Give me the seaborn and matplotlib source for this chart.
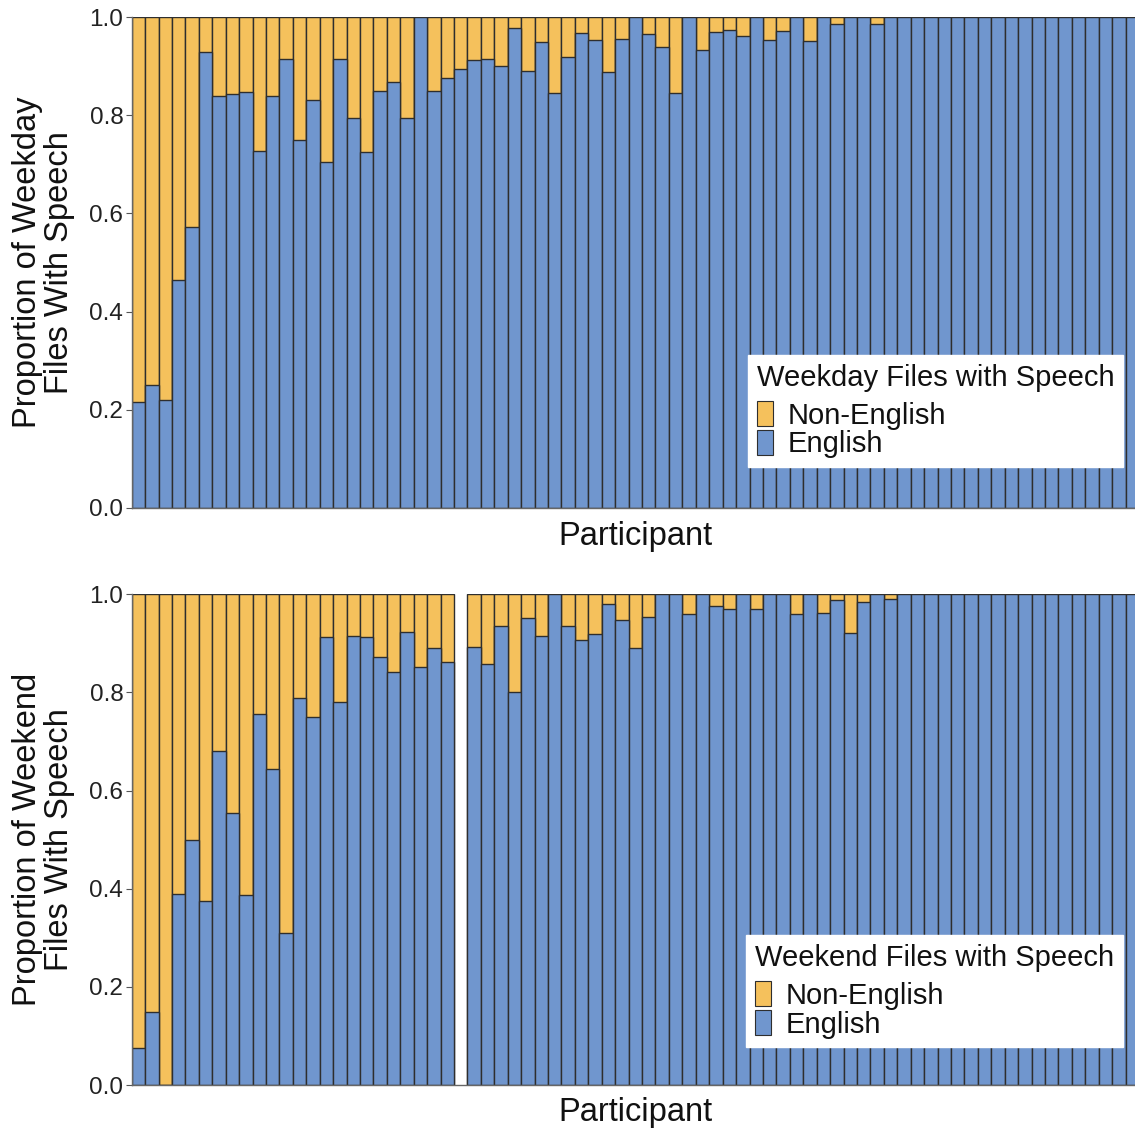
import numpy as np
import pandas as pd
import matplotlib
matplotlib.use("Agg")
import matplotlib.pyplot as plt
import seaborn as sns
from matplotlib.patches import Patch

# ---- data ----
weekday_english = [
    0.215, 0.250, 0.220, 0.465, 0.573, 0.928, 0.839, 0.844, 0.848, 0.728,
    0.839, 0.915, 0.749, 0.831, 0.704, 0.915, 0.795, 0.726, 0.849, 0.868,
    0.795, 1.000, 0.849, 0.876, 0.894, 0.913, 0.915, 0.900, 0.977, 0.891,
    0.949, 0.846, 0.918, 0.967, 0.954, 0.888, 0.956, 1.000, 0.966, 0.939,
    0.846, 1.000, 0.933, 0.969, 0.974, 0.962, 1.000, 0.954, 0.972, 1.000,
    0.951, 1.000, 0.986, 1.000, 1.000, 0.986, 1.000, 1.000, 1.000, 1.000,
    1.000, 1.000, 1.000, 1.000, 1.000, 1.000, 1.000, 1.000, 1.000, 1.000,
    1.000, 1.000, 1.000, 1.000, 1.000,
]
weekend_english = [
    0.075, 0.148, 0.000, 0.390, 0.499, 0.374, 0.680, 0.554, 0.388, 0.757,
    0.643, 0.309, 0.788, 0.750, 0.912, 0.781, 0.916, 0.912, 0.873, 0.842,
    0.924, 0.852, 0.891, 0.862, np.nan, 0.892, 0.857, 0.935, 0.800, 0.951,
    0.915, 1.000, 0.935, 0.907, 0.920, 0.980, 0.948, 0.890, 0.954, 1.000,
    1.000, 0.959, 1.000, 0.976, 0.970, 1.000, 0.970, 1.000, 1.000, 0.959,
    1.000, 0.962, 0.988, 0.922, 0.984, 1.000, 0.990, 1.000, 1.000, 1.000,
    1.000, 1.000, 1.000, 1.000, 1.000, 1.000, 1.000, 1.000, 1.000, 1.000,
    1.000, 1.000, 1.000, 1.000, 1.000,
]
participants = [f"P{i+1:02d}" for i in range(len(weekday_english))]
y_ticks = [0.0, 0.2, 0.4, 0.6, 0.8, 1.0]
legend_labels = ["Non-English", "English"]

YELLOW = "#F5C15C"
BLUE = "#7096CE"
EDGE = "#2e2e2e"

sns.set_theme(style="white")
plt.rcParams["font.family"] = ["Liberation Sans", "DejaVu Sans"]

W, H = 1135, 1128
fig = plt.figure(figsize=(W / 100, H / 100), dpi=100)

left = 131.7 / W
width = (1139.0 - 131.7) / W
ax_top = fig.add_axes([left, 1 - 508 / H, width, (508 - 17) / H])
ax_bot = fig.add_axes([left, 1 - 1085 / H, width, (1085 - 594.3) / H])


def draw(ax, english, ylabel, legend_title, leg_xy):
    df = pd.DataFrame({"participant": participants, "english": english})
    df["total"] = np.where(df["english"].isna(), np.nan, 1.0)
    df = df.dropna()
    sns.barplot(data=df, x="participant", y="total", order=participants,
                color=YELLOW, width=1.0, errorbar=None, saturation=1,
                edgecolor=EDGE, linewidth=1.0, ax=ax)
    sns.barplot(data=df, x="participant", y="english", order=participants,
                color=BLUE, width=1.0, errorbar=None, saturation=1,
                edgecolor=EDGE, linewidth=1.0, ax=ax)
    ax.set_xlim(-0.5, len(participants) - 0.5)
    ax.set_ylim(0, 1.0)
    ax.set_yticks(y_ticks)
    ax.set_yticklabels([f"{v:.1f}" for v in y_ticks])
    ax.set_xticks([])
    ax.set_xlabel("Participant", fontsize=23.5, color="#111111", labelpad=9)
    ax.set_ylabel(ylabel, fontsize=23.5, color="#111111", labelpad=10,
                  linespacing=1.05)
    ax.tick_params(axis="y", labelsize=17.5, length=4, width=0.8,
                   color="#555555", labelcolor="#222222", pad=2, left=True)
    for s in ["top", "right"]:
        ax.spines[s].set_visible(False)
    for s in ["left", "bottom"]:
        ax.spines[s].set_color("#666666")
        ax.spines[s].set_linewidth(1.0)
    handles = [Patch(facecolor=YELLOW, edgecolor=EDGE, linewidth=0.8),
               Patch(facecolor=BLUE, edgecolor=EDGE, linewidth=0.8)]
    leg = ax.legend(handles, legend_labels, title=legend_title,
                    loc="upper left", bbox_to_anchor=leg_xy,
                    fontsize=21, title_fontsize=21, frameon=True,
                    fancybox=False, framealpha=1, edgecolor="white",
                    facecolor="white", handlelength=0.55, handleheight=0.95,
                    handletextpad=0.5, labelspacing=0.0, borderpad=0.3,
                    borderaxespad=0)
    leg._legend_box.align = "left"
    leg._legend_box.sep = 7
    for t in leg.get_texts():
        t.set_color("#111111")
    leg.get_title().set_color("#111111")


draw(ax_top, weekday_english, "Proportion of Weekday\nFiles With Speech",
     "Weekday Files with Speech", (0.612, 0.312))
draw(ax_bot, weekend_english, "Proportion of Weekend\nFiles With Speech",
     "Weekend Files with Speech", (0.610, 0.306))

fig.savefig("out.png", dpi=100, facecolor="white")
